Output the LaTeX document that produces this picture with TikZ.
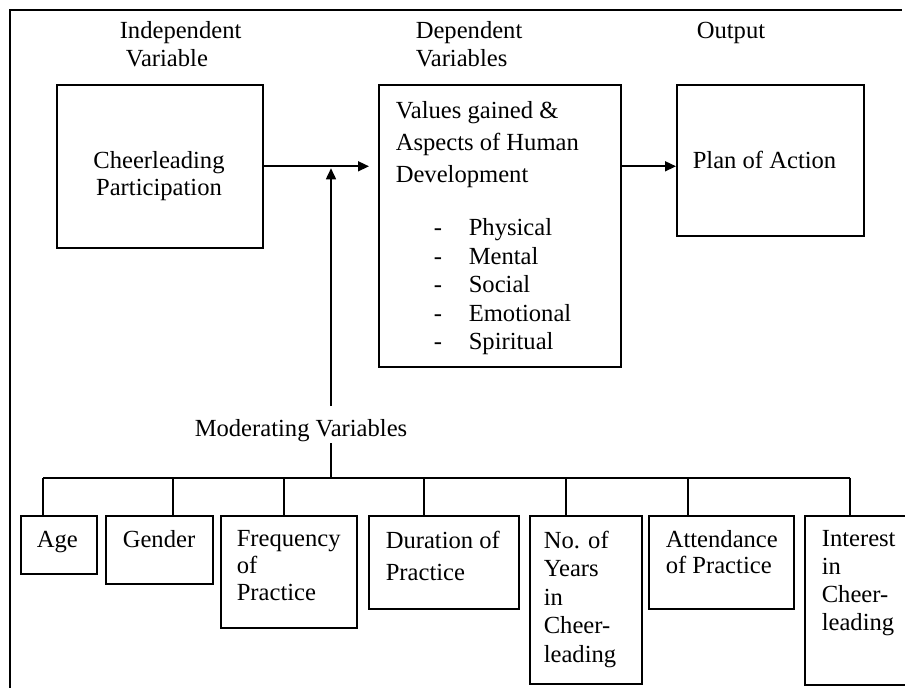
\documentclass[tikz,border=0pt]{standalone}
\usepackage{fontspec}
\setmainfont{Liberation Serif}
\usetikzlibrary{positioning,arrows.meta}

\begin{document}
\begin{tikzpicture}[x=0.5pt,y=-0.5pt,>={Triangle[length=5.5pt,width=5pt]},line width=0.8pt,
  every node/.style={font=\fontsize{12.3}{14}\selectfont,inner sep=0pt},
  box/.style={draw,anchor=north west},
  txt/.style={align=left}]
  \clip (0,0) rectangle (905,688);
  \draw[line width=1.4pt] (10,690) -- (10,10) -- (902,10);

  % headings
  \node[txt,anchor=north west] (indhead) at (119,21) {Independent\\\hspace{0.25em}Variable};
  \node[txt,anchor=north west] (dephead) at (415,21) {Dependent\\Variables};
  \node[anchor=north west] (outhead) at (696,21) {Output};

  % main boxes
  \node[box,minimum width=103pt,minimum height=81.5pt] (indep) at (56,84) {};
  \node[align=center,anchor=north,font=\fontsize{12.3}{13.5}\selectfont] (indtxt) at (159,151) {Cheerleading\\Participation};
  \node[box,minimum width=121pt,minimum height=141pt] (dep) at (378,84) {};
  \node[txt,font=\fontsize{12.3}{16}\selectfont,below right=8.5pt and 8.5pt of dep.north west] (deptxt)
    {Values gained \&\\Aspects of Human\\Development};
  \node[txt,font=\fontsize{12.3}{14.25}\selectfont,below right=67pt and 27.5pt of dep.north west] (deplist)
    {\makebox[17.5pt][l]{-}Physical\\\makebox[17.5pt][l]{-}Mental\\\makebox[17.5pt][l]{-}Social\\
     \makebox[17.5pt][l]{-}Emotional\\\makebox[17.5pt][l]{-}Spiritual};
  \node[box,minimum width=93.5pt,minimum height=75.5pt] (plan) at (676,84) {};
  \node[right=8pt of plan.west] (plantxt) {Plan of Action};

  % moderating variables
  \node[anchor=base] (mod) at (301,437) {Moderating Variables};
  \node[box,minimum width=38pt,minimum height=29pt] (age) at (20,515) {};
  \node[box,minimum width=53.5pt,minimum height=34pt] (gender) at (105,515) {};
  \node[box,minimum width=68pt,minimum height=56pt] (freq) at (220,515) {};
  \node[box,minimum width=75pt,minimum height=46.5pt] (dur) at (368,515) {};
  \node[box,minimum width=56pt,minimum height=84pt] (years) at (529,515) {};
  \node[box,minimum width=72.5pt,minimum height=46.5pt] (attend) at (648,515) {};
  \node[box,minimum width=60pt,minimum height=84.5pt] (interest) at (804,515) {};

  \node[txt,below right=7.5pt and 8pt of age.north west] (agetxt) {Age};
  \node[txt,below right=7.5pt and 8.5pt of gender.north west] (gendertxt) {Gender};
  \node[txt,font=\fontsize{12.3}{13.5}\selectfont,below right=7.5pt and 8pt of freq.north west] (freqtxt) {Frequency\\of\\Practice};
  \node[txt,font=\fontsize{12.3}{16}\selectfont,below right=7.5pt and 8.5pt of dur.north west] (durtxt) {Duration of\\Practice};
  \node[txt,font=\fontsize{12.3}{14.25}\selectfont,below right=7.5pt and 7pt of years.north west] (yearstxt) {No. of\\Years\\in\\Cheer-\\leading};
  \node[txt,font=\fontsize{12.3}{13}\selectfont,below right=7.5pt and 8.5pt of attend.north west] (attendtxt) {Attendance\\of Practice};
  \node[txt,below right=7.5pt and 8.5pt of interest.north west] (interesttxt) {Interest\\in\\Cheer-\\leading};

  % connectors
  \coordinate (bus) at (331,478);
  \coordinate (modtop) at ([yshift=6.5pt]mod.north);
  \draw[->,shorten >=4.5pt] (indep.east) -- (indep.east -| dep.west);
  \draw[->] (dep.east |- indep.east) -- (plan.west |- indep.east);
  \draw[->,shorten >=1pt] (modtop -| bus) -- (indep.east -| bus);
  \draw (mod.south -| bus) -- (bus);
  \draw (43,478) -- (850,478);
  \foreach \x/\b in {43/age,173/gender,284/freq,424/dur,566/years,688/attend,850/interest}
    \draw (\x,478) -- (\x,478 |- \b.north);
\end{tikzpicture}
\end{document}
